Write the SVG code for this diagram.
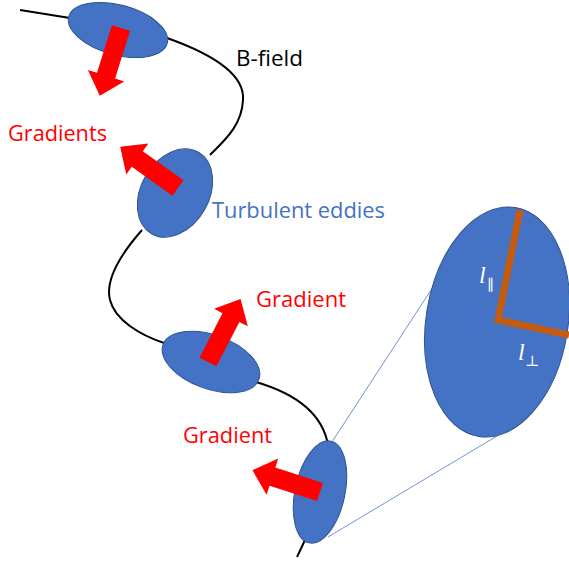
<svg xmlns="http://www.w3.org/2000/svg" width="569" height="562" viewBox="0 0 569 562">
<defs>
<style>
.eddy{fill:#4472C4;stroke:#2F528F;stroke-width:1}
.field{fill:none;stroke:#000;stroke-width:2}
.zoomline{fill:none;stroke:#6F93D3;stroke-width:1}
.grad{fill:#FF0000}
.lbl{font-family:"Open Sans","Liberation Sans",sans-serif;font-size:21px;font-variant-ligatures:none}
.math{font-family:"Liberation Serif","DejaVu Serif",serif;fill:#fff}
</style>
<path id="arr" d="M0,-9.5 L50,-9.5 L50,-19 L71,0 L50,19 L50,9.5 L0,9.5 Z"/>
</defs>
<rect width="569" height="562" fill="#fff"/>
<g id="connectors">
<path class="field" d="M20,10 L70,18"/>
<path class="field" d="M167,38 C215,55 245,75 243,100 C242,125 225,140 210,155"/>
<path class="field" d="M142,230 C120,255 105,280 110,300 C115,320 140,335 164,343"/>
<path class="field" d="M256,382 C290,392 322,410 328,445"/>
<path class="field" d="M305,540 L297,557"/>
<path class="zoomline" d="M330,445 L433,287"/>
<path class="zoomline" d="M328,537 L497,436"/>
</g>
<g id="eddy1"><ellipse class="eddy" cx="118" cy="30" rx="51" ry="25" transform="rotate(15 118 30)"/></g>
<g id="eddy2"><ellipse class="eddy" cx="175" cy="193" rx="34" ry="47" transform="rotate(30 175 193)"/></g>
<g id="eddy3"><ellipse class="eddy" cx="211" cy="362" rx="51" ry="27" transform="rotate(20 211 362)"/></g>
<g id="eddy4"><ellipse class="eddy" cx="320" cy="492" rx="25" ry="52" transform="rotate(12 320 492)"/></g>
<g id="zoom-eddy">
<ellipse class="eddy" cx="497" cy="322" rx="71" ry="116" transform="rotate(9 497 322)"/>
<polyline points="520,210 498,320 569,335" fill="none" stroke="#C55A11" stroke-width="7"/>
<text class="math" x="479" y="283" font-size="24" font-style="italic">l</text>
<text class="math" x="487" y="290" font-size="15">∥</text>
<text class="math" x="518" y="360" font-size="24" font-style="italic">l</text>
<text class="math" x="525" y="366" font-size="15">⊥</text>
</g>
<g id="arrows">
<use href="#arr" class="grad" transform="translate(121,28) rotate(107.4)"/>
<use href="#arr" class="grad" transform="translate(178,188) rotate(-144.5)"/>
<use href="#arr" class="grad" transform="translate(208,362) rotate(-62.7)"/>
<use href="#arr" class="grad" transform="translate(320,492) rotate(197.9)"/>
</g>
<g id="labels">
<text class="lbl" x="236" y="66" fill="#000" textLength="67" lengthAdjust="spacingAndGlyphs">B-field</text>
<text class="lbl" x="8" y="141" fill="#FF0000" textLength="99" lengthAdjust="spacingAndGlyphs">Gradients</text>
<text class="lbl" x="212" y="218" fill="#4472C4" textLength="173" lengthAdjust="spacingAndGlyphs">Turbulent eddies</text>
<text class="lbl" x="256" y="307" fill="#FF0000" textLength="90" lengthAdjust="spacingAndGlyphs">Gradient</text>
<text class="lbl" x="183" y="443" fill="#FF0000" textLength="89" lengthAdjust="spacingAndGlyphs">Gradient</text>
</g>
</svg>
